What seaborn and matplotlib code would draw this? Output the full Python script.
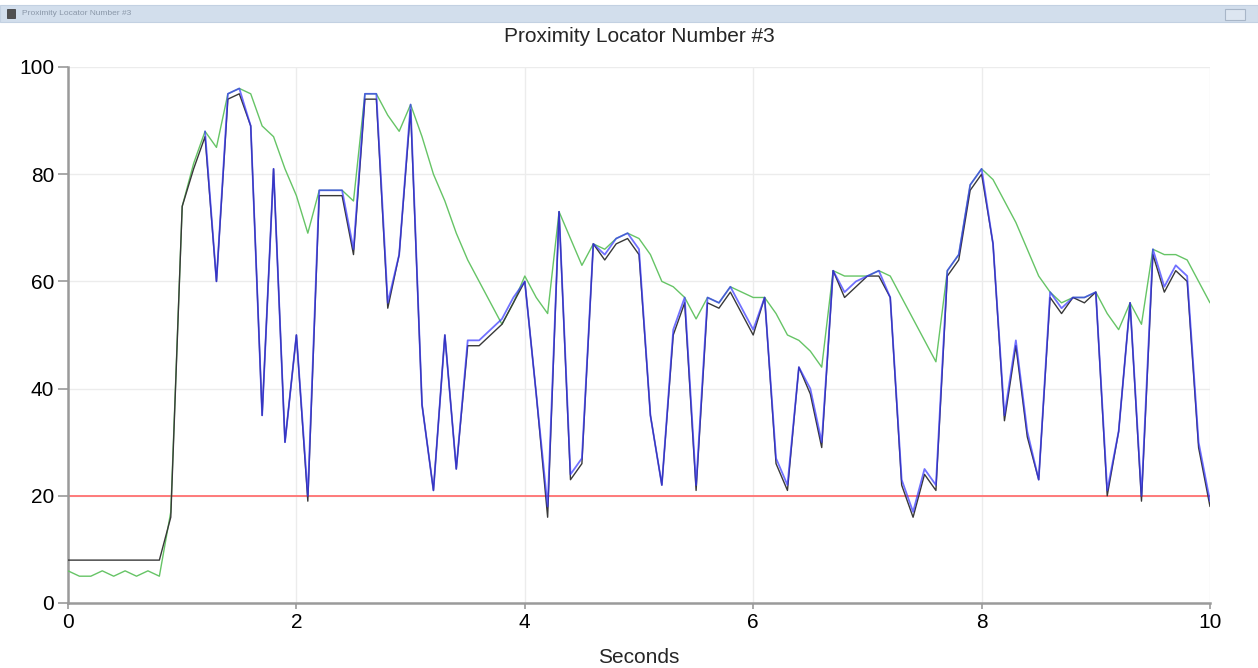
import numpy as np
import pandas as pd
import matplotlib
matplotlib.use("Agg")
import matplotlib.pyplot as plt
from matplotlib.patches import Rectangle
import seaborn as sns

# Sample times (seconds), one reading every 0.1 s
seconds = np.round(np.arange(101) * 0.1, 1)

# Upper envelope (green)
envelope = [
    6, 5, 5, 6, 5, 6, 5, 6, 5, 17,
    74, 82, 88, 85, 95, 96, 95, 89, 87, 81,
    76, 69, 77, 77, 77, 75, 95, 95, 91, 88,
    93, 87, 80, 75, 69, 64, 60, 56, 52, 56,
    61, 57, 54, 73, 68, 63, 67, 66, 68, 69,
    68, 65, 60, 59, 57, 53, 57, 56, 59, 58,
    57, 57, 54, 50, 49, 47, 44, 62, 61, 61,
    61, 62, 61, 57, 53, 49, 45, 62, 65, 78,
    81, 79, 75, 71, 66, 61, 58, 56, 57, 57,
    58, 54, 51, 56, 52, 66, 65, 65, 64, 60,
    56,
]

# Raw proximity reading (black)
raw = [
    8, 8, 8, 8, 8, 8, 8, 8, 8, 16,
    74, 81, 87, 60, 94, 95, 89, 35, 81, 30,
    50, 19, 76, 76, 76, 65, 94, 94, 55, 65,
    92, 37, 21, 50, 25, 48, 48, 50, 52, 56,
    60, 39, 16, 73, 23, 26, 67, 64, 67, 68,
    65, 35, 22, 50, 56, 21, 56, 55, 58, 54,
    50, 57, 26, 21, 44, 39, 29, 62, 57, 59,
    61, 61, 57, 22, 16, 24, 21, 61, 64, 77,
    80, 67, 34, 48, 31, 23, 57, 54, 57, 56,
    58, 20, 32, 56, 19, 65, 58, 62, 60, 29,
    18,
]

# Filtered reading (blue), available from 1.2 s on
nan = np.nan
filtered = [
    nan, nan, nan, nan, nan, nan, nan, nan, nan, nan,
    nan, nan, 88, 60, 95, 96, 89, 35, 81, 30,
    50, 20, 77, 77, 77, 66, 95, 95, 56, 65,
    93, 37, 21, 50, 25, 49, 49, 51, 53, 57,
    60, 39, 18, 73, 24, 27, 67, 65, 68, 69,
    66, 35, 22, 51, 57, 22, 57, 56, 59, 55,
    51, 57, 27, 22, 44, 40, 30, 62, 58, 60,
    61, 62, 57, 23, 17, 25, 22, 62, 65, 78,
    81, 67, 35, 49, 32, 23, 58, 55, 57, 57,
    58, 21, 32, 56, 20, 66, 59, 63, 61, 30,
    19,
]

threshold = 20
window_title = "Proximity Locator Number #3"
chart_title = "Proximity Locator Number #3"
x_label = "Seconds"
x_ticks = [0, 2, 4, 6, 8, 10]
y_ticks = [0, 20, 40, 60, 80, 100]

df = pd.DataFrame({"t": seconds, "envelope": envelope, "raw": raw, "filtered": filtered})

sns.set_theme(style="white")
plt.rcParams["font.family"] = ["Liberation Sans", "DejaVu Sans"]

fig = plt.figure(figsize=(12.58, 6.68), dpi=100)
fig.patch.set_facecolor("white")

# Window title bar
bar = Rectangle((0, 1 - 22 / 668), 1, 17 / 668, transform=fig.transFigure,
                facecolor="#d2deec", edgecolor="#c3d1e2", lw=0.8)
fig.patches.append(bar)
fig.patches.append(Rectangle((7 / 1258, 1 - 18 / 668), 8 / 1258, 9 / 668,
                             transform=fig.transFigure, facecolor="#505050",
                             edgecolor="#303030", lw=0.5))
fig.patches.append(Rectangle((1225 / 1258, 1 - 20 / 668), 20 / 1258, 11 / 668,
                             transform=fig.transFigure, facecolor="#dde6f1",
                             edgecolor="#a8b6c8", lw=0.8))
fig.text(22 / 1258, 1 - 13.5 / 668, window_title, fontsize=6, color="#8a97a8",
         va="center", ha="left")

ax = fig.add_axes([68 / 1258, 1 - 603 / 668, (1210 - 68) / 1258, (603 - 67) / 668])

sns.lineplot(data=df, x="t", y="envelope", ax=ax, color="#66c466", lw=1.0,
             estimator=None, sort=False, zorder=3)
sns.lineplot(data=df, x="t", y="raw", ax=ax, color="#383838", lw=1.0,
             estimator=None, sort=False, zorder=4)
sns.lineplot(data=df, x="t", y="filtered", ax=ax, color="#3535ff", lw=1.3,
             alpha=0.7, estimator=None, sort=False, zorder=5)
ax.axhline(threshold, color="#ff7070", lw=1.3, zorder=2)

ax.set_xlim(0, 10)
ax.set_ylim(0, 100)
ax.set_xticks(x_ticks)
ax.set_yticks(y_ticks)
ax.set_xticklabels([str(v) for v in x_ticks])
ax.set_yticklabels([str(v) for v in y_ticks])
ax.grid(True, color="#ececec", lw=1.0, zorder=0)
ax.set_axisbelow(True)

for side in ("top", "right"):
    ax.spines[side].set_visible(False)
for side in ("left", "bottom"):
    ax.spines[side].set_color("#9a9a9a")
    ax.spines[side].set_linewidth(1.8)

ax.tick_params(axis="both", which="major", labelsize=15, colors="#9a9a9a",
               labelcolor="black", width=1.2)
ax.tick_params(axis="y", length=7, pad=3, direction="out", left=True)
ax.tick_params(axis="x", length=4, pad=3, direction="out", bottom=True)

ax.set_xlabel(x_label, fontsize=15, labelpad=12)
ax.set_ylabel("")
fig.text(639 / 1258, 1 - 36 / 668, chart_title, fontsize=15, ha="center", va="center")

fig.savefig("out.png", dpi=100, facecolor="white")
